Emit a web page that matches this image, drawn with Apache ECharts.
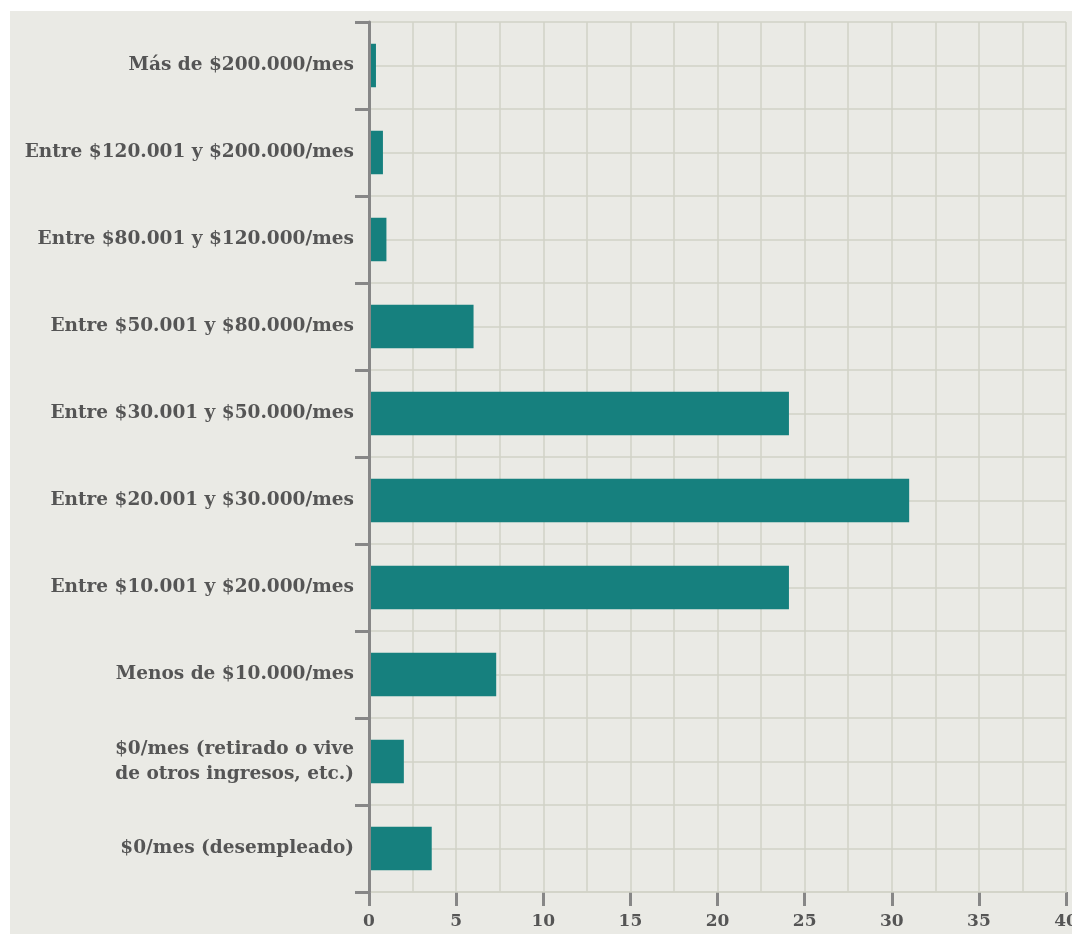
<!DOCTYPE html>
<html>
<head>
<meta charset="utf-8">
<script src="https://cdn.jsdelivr.net/npm/echarts@6/dist/echarts.min.js"></script>
<style>
html,body{margin:0;padding:0;background:#fff;}
body{padding:11px 0 0 10px;}
#chart{display:block;width:1062px;height:923px;background:#eaeae5;}
</style>
</head>
<body>
<div id="chart"></div>
<script>
// categorias de ingreso, de arriba hacia abajo
var categorias=[
    "Más de $200.000/mes",
    "Entre $120.001 y $200.000/mes",
    "Entre $80.001 y $120.000/mes",
    "Entre $50.001 y $80.000/mes",
    "Entre $30.001 y $50.000/mes",
    "Entre $20.001 y $30.000/mes",
    "Entre $10.001 y $20.000/mes",
    "Menos de $10.000/mes",
    "$0/mes (retirado o vive\nde otros ingresos, etc.)",
    "$0/mes (desempleado)"
];
var valores=[0.4,0.8,1.0,6.0,24.1,31.0,24.1,7.3,2.0,3.6];
var ejeMin=0,ejeMax=40,ejePaso=5;

var fuente="'DejaVu Serif',serif";
var gris="#878787";
var linea="#d1d2c6";

var myChart=echarts.init(document.getElementById("chart"));
var option={
    animation:false,
    grid:[
        {left:359,top:11,right:6,bottom:42,containLabel:false,outerBoundsMode:"none"},
        // franja bajo el eje: marcas y numeros
        {left:359,top:881,right:6,height:14,containLabel:false,outerBoundsMode:"none"}
    ],
    xAxis:[
        {
            gridIndex:0,type:"value",position:"bottom",min:ejeMin,max:ejeMax,interval:ejePaso,
            axisLine:{show:true,onZero:false,lineStyle:{color:linea,width:1.5}},
            axisTick:{show:false},
            axisLabel:{show:false},
            splitLine:{show:true,lineStyle:{color:linea,width:1.5}},
            minorTick:{show:false,splitNumber:2},
            minorSplitLine:{show:true,lineStyle:{color:linea,width:1.5}}
        },
        {
            gridIndex:1,type:"value",position:"bottom",min:ejeMin,max:ejeMax,interval:ejePaso,
            axisLine:{show:false,onZero:false},
            axisTick:{show:false},
            axisLabel:{color:"#555",fontFamily:fuente,fontWeight:"bold",fontSize:17,margin:7},
            splitLine:{show:true,lineStyle:{color:gris,width:3}}
        }
    ],
    yAxis:[
        {
            gridIndex:0,type:"category",data:categorias,inverse:true,
            axisLine:{show:true,lineStyle:{color:gris,width:3}},
            axisTick:{show:true,length:14,lineStyle:{color:gris,width:3}},
            axisLabel:{color:"#555",fontFamily:fuente,fontWeight:"bold",fontSize:18.5,margin:15,lineHeight:25,align:"right"},
            splitLine:{show:false},
            z:5
        },
        {
            // lineas horizontales a mitad de cada categoria
            gridIndex:0,type:"value",min:0,max:20,interval:1,
            axisLine:{show:false},axisTick:{show:false},axisLabel:{show:false},
            splitLine:{show:true,lineStyle:{color:linea,width:1.5}}
        },
        {
            gridIndex:1,type:"value",min:0,max:1,
            axisLine:{show:false},axisTick:{show:false},axisLabel:{show:false},
            splitLine:{show:false}
        }
    ],
    series:[
        {
            type:"bar",data:valores,xAxisIndex:0,yAxisIndex:0,
            barWidth:"50%",
            itemStyle:{color:"#16807e"},
            z:3
        }
    ]
};
myChart.setOption(option);
</script>
</body>
</html>
